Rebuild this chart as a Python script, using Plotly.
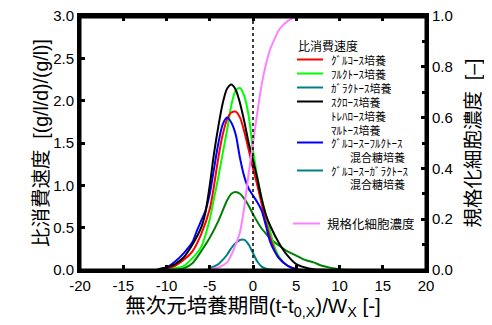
import plotly.graph_objects as go

# ---------------- data ----------------
x_black = [-11, -10, -9, -8, -7, -6, -5.5, -5, -4.5, -4, -3.5, -3, -2.5, -2, -1.5, -1, -0.5, 0, 0.5, 1, 1.5, 2, 3, 4, 5, 6, 7, 8, 9]
y_black = [0.01, 0.03, 0.07, 0.15, 0.3, 0.5, 0.68, 1.0, 1.38, 1.7, 1.97, 2.14, 2.19, 2.13, 1.97, 1.75, 1.5, 1.3, 1.08, 0.84, 0.65, 0.52, 0.32, 0.17, 0.07, 0.03, 0.01, 0.003, 0.0]

x_green = [-11, -10, -9, -8, -7, -6, -5, -4.5, -4, -3.5, -3, -2.5, -2, -1.5, -1, -0.5, 0, 0.5, 1, 1.5, 2, 2.5, 3, 4, 5, 6]
y_green = [0.003, 0.01, 0.02, 0.05, 0.14, 0.27, 0.6, 0.85, 1.1, 1.38, 1.65, 1.95, 2.12, 2.15, 2.05, 1.82, 1.42, 1.1, 0.85, 0.64, 0.45, 0.27, 0.16, 0.05, 0.01, 0.0]

x_red = [-11, -10, -9, -8, -7, -6, -5, -4.5, -4, -3.5, -3, -2.5, -2, -1.5, -1, -0.5, 0, 0.5, 1, 1.5, 2, 2.5, 3, 4, 5, 6]
y_red = [0.005, 0.02, 0.05, 0.12, 0.22, 0.42, 0.72, 1.0, 1.33, 1.6, 1.78, 1.86, 1.87, 1.8, 1.63, 1.42, 1.2, 1.0, 0.78, 0.56, 0.38, 0.23, 0.14, 0.05, 0.01, 0.0]

x_blue = [-11, -10, -9, -8, -7, -6.5, -6, -5.5, -5, -4.5, -4, -3.5, -3, -2.5, -2, -1.5, -1, -0.5, 0, 0.5, 1, 1.5, 2, 2.5, 3, 4, 5, 6]
y_blue = [0.01, 0.03, 0.1, 0.2, 0.33, 0.46, 0.58, 0.7, 0.9, 1.2, 1.5, 1.72, 1.8, 1.74, 1.6, 1.32, 1.1, 0.96, 0.88, 0.8, 0.7, 0.52, 0.33, 0.22, 0.14, 0.05, 0.01, 0.0]

x_teal = [-5, -4, -3.5, -3, -2.5, -2, -1.5, -1, -0.5, 0, 0.5, 1, 1.5, 2, 3]
y_teal = [0.02, 0.07, 0.12, 0.18, 0.26, 0.32, 0.355, 0.355, 0.3, 0.2, 0.1, 0.04, 0.015, 0.005, 0.0]

x_dgreen = [-9, -8, -7, -6, -5, -4, -3, -2.5, -2, -1.5, -1, -0.5, 0, 0.5, 1, 1.5, 2, 3, 4, 5, 6, 7, 8, 9, 10, 11]
y_dgreen = [0.005, 0.02, 0.08, 0.22, 0.38, 0.58, 0.82, 0.9, 0.92, 0.9, 0.84, 0.76, 0.66, 0.57, 0.49, 0.43, 0.37, 0.29, 0.22, 0.17, 0.12, 0.09, 0.05, 0.025, 0.01, 0.0]

x_pink = [-6, -5, -4, -3, -2.5, -2, -1.5, -1, -0.5, 0, 0.5, 1, 1.5, 2, 2.5, 3, 3.5, 4, 4.5, 5, 6]
y_pink = [0.0, 0.003, 0.01, 0.03, 0.06, 0.1, 0.15, 0.25, 0.38, 0.5, 0.62, 0.73, 0.81, 0.87, 0.91, 0.945, 0.965, 0.98, 0.99, 0.997, 1.0]

x_ticks = [-20, -15, -10, -5, 0, 5, 10, 15, 20]
y_ticks = [0.0, 0.5, 1.0, 1.5, 2.0, 2.5, 3.0]
y2_ticks = [0.0, 0.2, 0.4, 0.6, 0.8, 1.0]

legend_title = "比消費速度"
legend_rows = [
    ("ｸﾞﾙｺｰｽ培養", "#ff0000"),
    ("ﾌﾙｸﾄｰｽ培養", "#00ff00"),
    ("ｶﾞﾗｸﾄｰｽ培養", "#008080"),
    ("ｽｸﾛｰｽ培養", "#000000"),
    ("ﾄﾚﾊﾛｰｽ培養", None),
    ("ﾏﾙﾄｰｽ培養", None),
    ("ｸﾞﾙｺｰｽｰﾌﾙｸﾄｰｽ", "#0000ff"),
    ("混合糖培養", "indent"),
    ("ｸﾞﾙｺｰｽｰｶﾞﾗｸﾄｰｽ", "#008080"),
    ("混合糖培養", "indent"),
]
pink_label = "規格化細胞濃度"

FONT = "Liberation Sans, Arial, Noto Sans CJK JP, sans-serif"
JFONT = "Noto Sans CJK JP, sans-serif"

fig = go.Figure()

def add(x, y, color, yaxis="y"):
    fig.add_trace(go.Scatter(x=x, y=y, mode="lines", yaxis=yaxis,
                             line=dict(color=color, width=2, shape="spline", smoothing=0.8),
                             showlegend=False, hoverinfo="skip"))

add(x_pink, y_pink, "#ff80ff", "y2")
add(x_dgreen, y_dgreen, "#008000")
add(x_teal, y_teal, "#008080")
add(x_green, y_green, "#00ff00")
add(x_red, y_red, "#ff0000")
add(x_blue, y_blue, "#0000ff")
add(x_black, y_black, "#000000")
# empty helper trace so that the top axis is drawn
fig.add_trace(go.Scatter(x=x_ticks, y=[None] * len(x_ticks), xaxis="x2", mode="lines",
                         showlegend=False, hoverinfo="skip"))

fig.add_vline(x=0, line=dict(color="black", width=1.5, dash="dot"))

# page offset (body margin of the html page)
OFF = 8
# plot area in page pixels
L, R, T, B = 80, 426, 16, 270
W, H = 492 - OFF, 325 - OFF
def px(xp):
    return (xp - L) / (R - L)
def py(yp):
    return (B - yp) / (B - T)

# plot frame (top edge drawn explicitly as well)
fig.add_shape(type="rect", xref="paper", yref="paper", x0=0, x1=1, y0=0, y1=1,
              line=dict(color="black", width=3), layer="above")
fig.add_shape(type="line", xref="paper", yref="paper", x0=0, x1=1, y0=py(T + 1), y1=py(T + 1),
              line=dict(color="black", width=3), layer="above")

# legend (drawn manually)
fig.add_annotation(x=px(296), y=py(45), xref="paper", yref="paper", text=legend_title,
                   showarrow=False, xanchor="left", yanchor="middle", height=14,
                   font=dict(family=JFONT, size=12, color="black"))
row_y = [59.5, 73.5, 87.5, 101.5, 115, 129, 142.5, 156.5, 170.5, 184]
for (label, col), yy in zip(legend_rows, row_y):
    if col not in (None, "indent"):
        fig.add_shape(type="line", xref="paper", yref="paper",
                      x0=px(297), x1=px(323), y0=py(yy), y1=py(yy),
                      line=dict(color=col, width=2))
    xt = 348 if col == "indent" else 329
    fig.add_annotation(x=px(xt), y=py(yy), xref="paper", yref="paper", text=label,
                       showarrow=False, xanchor="left", yanchor="middle", height=13,
                       font=dict(family=JFONT, size=11, color="black"))
fig.add_shape(type="line", xref="paper", yref="paper",
              x0=px(293), x1=px(320), y0=py(223.5), y1=py(223.5),
              line=dict(color="#ff80ff", width=2))
fig.add_annotation(x=px(325), y=py(223.5), xref="paper", yref="paper", text=pink_label,
                   showarrow=False, xanchor="left", yanchor="middle", height=15,
                   font=dict(family=JFONT, size=12.5, color="black"))

axis_common = dict(showgrid=False, zeroline=False, showline=True, linecolor="black",
                   linewidth=3, ticks="inside", ticklen=5, tickwidth=2.5, tickcolor="black",
                   automargin=False, ticklabeloverflow="allow",
                   tickfont=dict(family=FONT, size=15, color="black"))

fig.update_layout(
    width=W, height=H,
    margin=dict(l=L - OFF, r=492 - R, t=T - OFF, b=325 - B, autoexpand=False),
    paper_bgcolor="white", plot_bgcolor="white",
    xaxis=dict(range=[-20, 20], tickvals=x_ticks, ticktext=[str(v) for v in x_ticks],
               title=dict(text="無次元培養期間(t-t<sub>0,X</sub>)/W<sub>X</sub> [-]",
                          font=dict(family=FONT, size=20.5, color="black"), standoff=3),
               **axis_common),
    xaxis2=dict(range=[-20, 20], overlaying="x", side="top", anchor="y",
                tickvals=x_ticks, showticklabels=False, **axis_common),
    yaxis=dict(range=[0, 3], tickvals=y_ticks, ticktext=[f"{v:.1f}" for v in y_ticks],
               title=dict(text="比消費速度  [(g/l/d)/(g/l)]",
                          font=dict(family=FONT, size=19.5, color="black"), standoff=0),
               **axis_common),
    yaxis2=dict(range=[0, 1], overlaying="y", side="right", tickvals=y2_ticks,
                ticktext=[f"{v:.1f}" for v in y2_ticks],
                minor=dict(dtick=0.1, ticks="inside", ticklen=4, tickwidth=2.5, tickcolor="black"),
                title=dict(text="規格化細胞濃度  [–]",
                           font=dict(family=FONT, size=19.5, color="black"), standoff=15),
                **axis_common),
)

fig.write_html("out.html", config={"displayModeBar": False})
